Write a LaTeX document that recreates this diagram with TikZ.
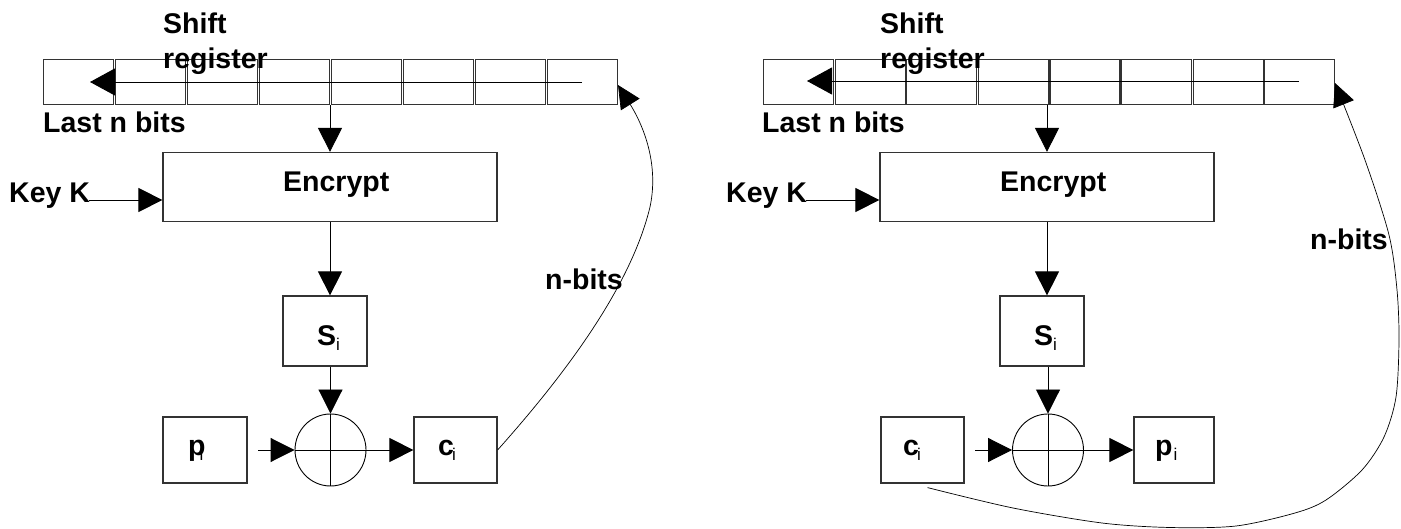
\documentclass[tikz,border=0pt]{standalone}
\usepackage{fontspec}
\setmainfont{Liberation Sans}
\usetikzlibrary{arrows.meta,shapes.geometric}
\newcommand{\sbi}[1]{\raisebox{-5pt}{\fontsize{17}{17}\selectfont\mdseries #1}}
\begin{document}
\begin{tikzpicture}[x=1pt,y=-1pt,
  lbl/.style={font=\fontsize{28.5}{35}\selectfont\bfseries, inner sep=0pt},
  box/.style={draw=black!80, line width=1.2pt, inner sep=0pt},
  cell/.style={draw=black!80, line width=1.1pt, minimum width=70pt, minimum height=45pt, inner sep=0pt, anchor=north west},
  xorc/.style={draw, ellipse, line width=0.9pt, minimum width=71pt, minimum height=72pt, inner sep=0pt},
  ln/.style={line width=0.9pt},
  arr/.style={ln, -{Triangle[length=24pt,width=24pt]}},
  regarr/.style={ln, -{Triangle[length=25pt,width=27pt]}},
  fb/.style={line width=0.7pt, -{Triangle[length=23pt,width=22pt]}}
]
\useasboundingbox (0,0) rectangle (1401,529);

% ================= LEFT PANEL =================
\foreach \i in {0,...,7} \node[cell] (L\i) at ({43+72*\i},59) {};
\coordinate (Lrs) at (582,82);
\coordinate (Lre) at (90,82);
\draw[regarr] (Lrs) -- (Lre);
\node[lbl, align=left, anchor=north west] (shiftL) at (163,12.5) {Shift\\register};
\node[lbl, anchor=base west] (lastL) at (43,133) {Last n bits};

\node[box, minimum width=334pt, minimum height=69pt] (encL) at (330,187) {};
\node[lbl, anchor=base west] (encLt) at (283,192) {Encrypt};
\node[lbl, anchor=base west] (keyL) at (9,203) {Key K};
\coordinate (keyLe) at (89,200);
\draw[arr] (keyLe) -- (keyLe -| encL.west);
\draw[arr] (encL.north |- L3.south) -- (encL.north);

\node[box, minimum width=84pt, minimum height=70pt] (sL) at (325,331) {};
\node[lbl, anchor=base west] (sLt) at (317,346) {S\sbi{i}};
\draw[arr] (encL.south) -- (encL.south |- sL.north);

\node[xorc] (xL) at (330.5,450) {};
\node[box, minimum width=84pt, minimum height=66pt] (pL) at (205,450) {};
\node[lbl, anchor=base west] (pLt) at (188,455) {p\kern-6pt\sbi{i}};
\node[box, minimum width=83pt, minimum height=66pt] (cL) at (455.5,450) {};
\node[lbl, anchor=base west] (cLt) at (438,455) {c\kern-2pt\sbi{i}};

\draw[arr] (xL.north |- sL.south) -- (xL.north);
\draw[ln] (xL.north) -- (xL.south);
\coordinate (pLs) at (258,450);
\draw[arr] (pLs) -- (xL.west);
\draw[ln] (xL.west) -- (xL.east);
\draw[arr] (xL.east) -- (cL.west);

\coordinate (Ltip) at (618,85);
\draw[fb] (cL.east) .. controls (560,380) and (630,290) .. (650,207)
                    .. controls (660,160) and (640,120) .. (Ltip);
\node[lbl, anchor=base west] (nbL) at (545,290) {n-bits};

% ================= RIGHT PANEL =================
\foreach \i in {0,...,7} \node[cell] (R\i) at ({763+71.6*\i},59) {};
\coordinate (Rrs) at (1299,81);
\coordinate (Rre) at (807,81);
\draw[regarr] (Rrs) -- (Rre);
\node[lbl, align=left, anchor=north west] (shiftR) at (880,12.5) {Shift\\register};
\node[lbl, anchor=base west] (lastR) at (762,133) {Last n bits};

\node[box, minimum width=334pt, minimum height=69pt] (encR) at (1047,187) {};
\node[lbl, anchor=base west] (encRt) at (1000,192) {Encrypt};
\node[lbl, anchor=base west] (keyR) at (726,203) {Key K};
\coordinate (keyRe) at (806,200);
\draw[arr] (keyRe) -- (keyRe -| encR.west);
\draw[arr] (encR.north |- R3.south) -- (encR.north);

\node[box, minimum width=84pt, minimum height=70pt] (sR) at (1042,331) {};
\node[lbl, anchor=base west] (sRt) at (1034,346) {S\sbi{i}};
\draw[arr] (encR.south) -- (encR.south |- sR.north);

\node[xorc] (xR) at (1048,450) {};
\node[box, minimum width=83pt, minimum height=66pt] (cR) at (922.5,450) {};
\node[lbl, anchor=base west] (cRt) at (903,455) {c\kern-2pt\sbi{i}};
\node[box, minimum width=80pt, minimum height=66pt] (pR) at (1174,450) {};
\node[lbl, anchor=base west] (pRt) at (1155,455) {p\kern1pt\sbi{i}};

\draw[arr] (xR.north |- sR.south) -- (xR.north);
\draw[ln] (xR.north) -- (xR.south);
\coordinate (cRs) at (975,450);
\draw[arr] (cRs) -- (xR.west);
\draw[ln] (xR.west) -- (xR.east);
\draw[arr] (xR.east) -- (pR.west);

\coordinate (Rtip) at (1335,83);
\draw[fb] plot[smooth, tension=0.5] coordinates {([xshift=5pt,yshift=-4pt]cR.south) (1013,508) (1102,523) (1170,527.5) (1236,526) (1295,513) (1326,500) (1362,470) (1384,437) (1396,397) (1399,340) (1397,290) (1389,235) (1365,160) (Rtip)};
\node[lbl, anchor=base west] (nbR) at (1310,250) {n-bits};
\end{tikzpicture}
\end{document}
